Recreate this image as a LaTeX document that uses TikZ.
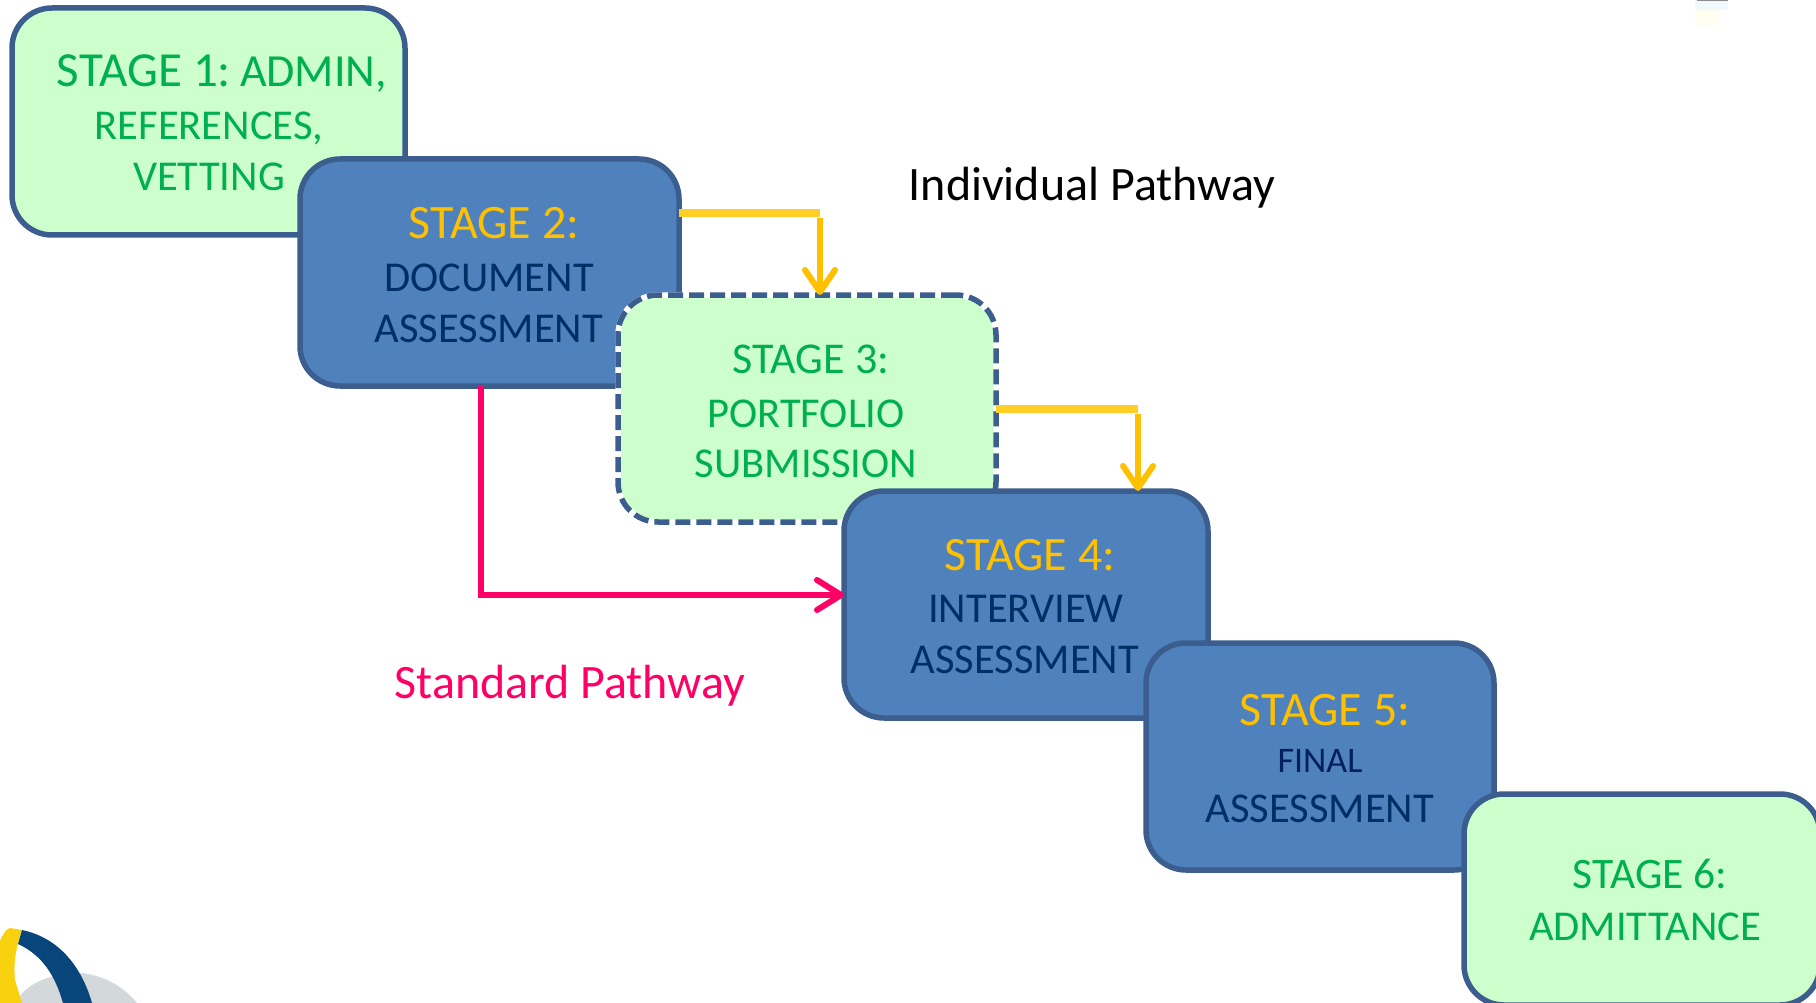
\documentclass[tikz,border=0pt]{standalone}
\usepackage{fontspec}
\setmainfont{Carlito}
\usetikzlibrary{arrows.meta}
\definecolor{boxline}{HTML}{3B5E8E}
\definecolor{boxgreen}{HTML}{CCFFCC}
\definecolor{boxblue}{HTML}{4F81BD}
\definecolor{txtgreen}{HTML}{00B050}
\definecolor{txtgold}{HTML}{FFC000}
\definecolor{linegold}{HTML}{FFCF26}
\definecolor{txtnavy}{HTML}{002F66}
\definecolor{txtnavyb}{HTML}{002060}
\definecolor{pathpink}{HTML}{FF0066}
\definecolor{logonavy}{HTML}{07457A}
\definecolor{logoyellow}{HTML}{F8D20F}
\definecolor{logogrey}{HTML}{D3D8DB}
\newcommand{\fsz}[1]{\fontsize{#1}{#1}\selectfont}
\tikzset{
  x=1pt, y=-1pt,
  stagebox/.style={rectangle, rounded corners=40pt, outer sep=0pt, inner sep=0pt, line width=5.5pt, draw=boxline},
  greenbox/.style={stagebox, fill=boxgreen},
  bluebox/.style={stagebox, fill=boxblue},
  dashbox/.style={rectangle, rounded corners=40pt, outer sep=0pt, inner sep=0pt, line width=5.5pt, fill=boxgreen, draw=white,
     postaction={draw=boxline, dash pattern=on 15pt off 6pt}},
  tl/.style={anchor=base, inner sep=0pt, outer sep=0pt},
  goldhead/.style={-{Straight Barb[length=22pt,width=30pt,line cap=round,round]}, draw=txtgold, line width=6pt},
  goldrun/.style={draw=linegold, line width=8pt},
  pinkpath/.style={draw=pathpink, line width=6pt, -{Straight Barb[length=24pt,width=30pt,line cap=round,round]}},
}
\begin{document}
\begin{tikzpicture}
\useasboundingbox (0,0) rectangle (1816,1003);
\clip (0,0) rectangle (1816,1003);
% logo fragment
\fill[logogrey] (17,1003) .. controls (22,985) and (50,973) .. (80,973) .. controls (105,975) and (125,988) .. (137,1003) -- cycle;
\fill[logoyellow] (0,941) .. controls (3,934) and (6,929) .. (10,928) -- (22,930) .. controls (17,945) and (13,960) .. (15,980) -- (22,1003) -- (0,1003) -- cycle;
\fill[logonavy] (22,930) .. controls (60,938) and (82,968) .. (92,1003) -- (63,1003) .. controls (55,975) and (42,955) .. (18,944) -- cycle;
% top-right fragment
\fill[black!4!cyan!6!white] (1695,0) rectangle (1728,10);
\fill[yellow!6!white] (1695,10) rectangle (1720,25);
\fill[black!45] (1697,0) rectangle (1728,1);
% boxes
\node[greenbox, minimum width=393pt, minimum height=227pt] (b1) at (208.5,121.5) {};
\node[tl, text=txtgreen] (t1a) at (222,87) {\fsz{49}STAGE 1:\hspace{9pt}\fsz{46}ADMIN,};
\node[tl, text=txtgreen, font=\fsz{42.5}] (t1b) at (209,140) {REFERENCES,};
\node[tl, text=txtgreen, font=\fsz{42.5}] (t1c) at (209,191) {VETTING};
\node[bluebox, minimum width=379pt, minimum height=227pt] (b2) at (489.5,272.5) {};
\node[tl, text=txtgold, font=\fsz{48}] (t2a) at (494,239) {STAGE 2:};
\node[tl, text=txtnavy, font=\fsz{42.5}] (t2b) at (489,291) {DOCUMENT};
\node[tl, text=txtnavy, font=\fsz{42.5}] (t2c) at (489,342) {ASSESSMENT};
\node[dashbox, minimum width=378pt, minimum height=227pt] (b3) at (807,408.5) {};
\node[tl, text=txtgreen, font=\fsz{44}] (t3a) at (811,373) {STAGE 3:};
\node[tl, text=txtgreen, font=\fsz{42.5}] (t3b) at (806,427) {PORTFOLIO};
\node[tl, text=txtgreen, font=\fsz{42.5}] (t3c) at (806,477) {SUBMISSION};
\node[bluebox, minimum width=364pt, minimum height=227pt] (b4) at (1026,604.5) {};
\node[tl, text=txtgold, font=\fsz{48}] (t4a) at (1030,570) {STAGE 4:};
\node[tl, text=txtnavy, font=\fsz{42.5}] (t4b) at (1026,622) {INTERVIEW};
\node[tl, text=txtnavy, font=\fsz{42.5}] (t4c) at (1025,673) {ASSESSMENT};
\node[bluebox, minimum width=348pt, minimum height=227pt] (b5) at (1320,756.5) {};
\node[tl, text=txtgold, font=\fsz{48}] (t5a) at (1325,725) {STAGE 5:};
\node[tl, text=txtnavyb, font=\fsz{36}] (t5b) at (1320,772) {FINAL};
\node[tl, text=txtnavy, font=\fsz{42.5}] (t5c) at (1320,822) {ASSESSMENT};
\node[greenbox, minimum width=356pt, minimum height=211pt] (b6) at (1642,899.5) {};
\node[tl, text=txtgreen, font=\fsz{43.5}] (t6a) at (1650,888) {STAGE 6:};
\node[tl, text=txtgreen, font=\fsz{42.5}] (t6b) at (1645,940) {ADMITTANCE};
% pathway labels
\node[tl, text=black, font=\fsz{48}] (ind) at (1092,201) {Individual Pathway};
\node[tl, text=pathpink, font=\fsz{48}] (std) at (570,698) {Standard Pathway};
% connectors
\coordinate (c23) at (820,213);
\coordinate (c34) at (1138,409);
\coordinate (c24) at (481,595);
\draw[goldrun] (c23 -| b2.east) -- (c23);
\draw[goldhead] ([yshift=-5pt]c23) -- (c23 |- b3.north);
\draw[goldrun] (c34 -| b3.east) -- (c34);
\draw[goldhead] ([yshift=-5pt]c34) -- (c34 |- b4.north);
\draw[pinkpath] (c24 |- b2.south) -- (c24) -- (c24 -| b4.west);
\end{tikzpicture}
\end{document}
